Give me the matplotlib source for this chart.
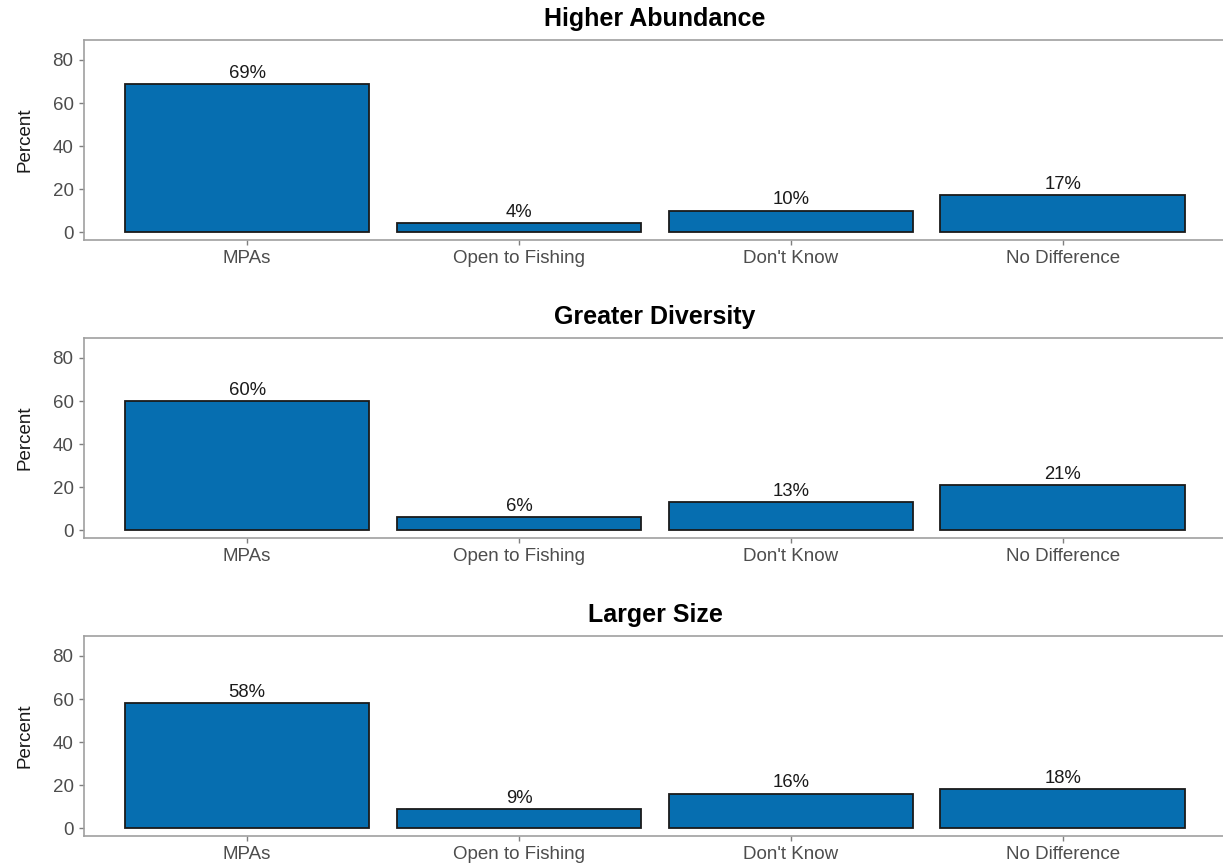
import matplotlib.pyplot as plt

plt.rcParams['font.family'] = ['Liberation Sans', 'DejaVu Sans']

categories = ["MPAs", "Open to Fishing", "Don't Know", "No Difference"]
titles = ["Higher Abundance", "Greater Diversity", "Larger Size"]
abundance = [69, 4, 10, 17]
diversity = [60, 6, 13, 21]
size = [58, 9, 16, 18]
panels = [abundance, diversity, size]

W, H = 1223, 867
fig = plt.figure(figsize=(W / 100, H / 100), dpi=100)

# panel top/bottom in pixels
panel_px = [(40, 240), (338, 538), (636, 836)]
left_px, right_px = 84, 1226

for (top, bottom), title, values in zip(panel_px, titles, panels):
    ax = fig.add_axes([left_px / W, 1 - bottom / H, (right_px - left_px) / W, (bottom - top) / H])
    x = range(len(categories))
    ax.bar(x, values, width=0.9, color="#066EB0", edgecolor="#1a1a1a", linewidth=1.3)
    for xi, v in zip(x, values):
        ax.text(xi, v + 1.0, f"{v}%", ha="center", va="bottom", fontsize=13.3, color="#1a1a1a")
    ax.set_xlim(-0.6, 3.6)
    ax.set_ylim(-3.7, 89.3)
    ax.set_yticks([0, 20, 40, 60, 80])
    ax.set_xticks(list(x))
    ax.set_xticklabels(categories)
    ax.tick_params(colors="#7f7f7f", labelcolor="#4d4d4d", labelsize=13.5, length=3.5, width=1, pad=4)
    for side in ["left", "top", "bottom"]:
        ax.spines[side].set_color("#a0a0a0")
        ax.spines[side].set_linewidth(1.2)
    ax.spines["right"].set_visible(False)
    ax.set_ylabel("Percent", fontsize=13.5, color="#1a1a1a", labelpad=14)
    ax.set_title(title, fontsize=18, fontweight="bold", pad=10)

fig.savefig("out.png", dpi=100)
